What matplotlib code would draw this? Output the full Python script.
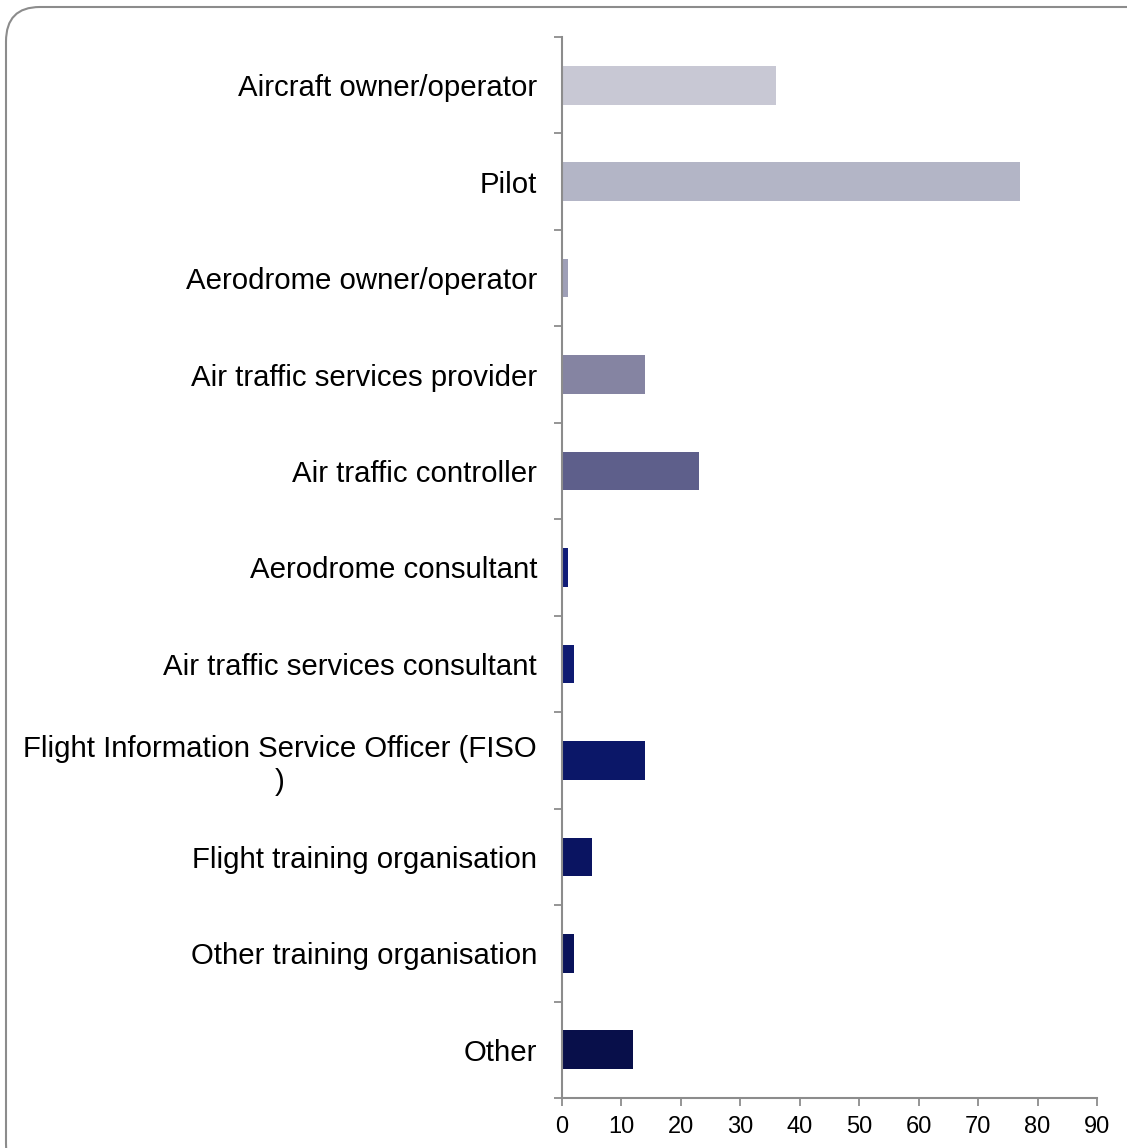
import numpy as np
import matplotlib
matplotlib.use("Agg")
import matplotlib.pyplot as plt
from matplotlib.patches import FancyBboxPatch

plt.rcParams['font.family'] = ['Liberation Sans', 'DejaVu Sans']

categories = [
    "Aircraft owner/operator",
    "Pilot",
    "Aerodrome owner/operator",
    "Air traffic services provider",
    "Air traffic controller",
    "Aerodrome consultant",
    "Air traffic services consultant",
    "Flight Information Service Officer (FISO\n)",
    "Flight training organisation",
    "Other training organisation",
    "Other",
]
values = [36, 77, 1, 14, 23, 1, 2, 14, 5, 2, 12]
colors = ["#C8C8D4", "#B3B5C6", "#9E9FB7", "#8584A2", "#5E5F8B",
          "#101C78", "#0E1A72", "#0B1768", "#0A1461", "#09125A", "#080F4A"]
xticks = [0, 10, 20, 30, 40, 50, 60, 70, 80, 90]

W, H = 1127, 1148
fig = plt.figure(figsize=(W / 100, H / 100), dpi=100)

# rounded outer frame (runs off the right and bottom edges)
frame = FancyBboxPatch((6 / W, -30 / H), (W + 40) / W, (H + 30 - 7) / H,
                       boxstyle="round,pad=0,rounding_size=0.03",
                       transform=fig.transFigure, facecolor="none",
                       edgecolor="#8C8C8C", linewidth=1.5, zorder=-1)
fig.patches.append(frame)

ax = fig.add_axes([562 / W, 1 - 1098 / H, (1097 - 562) / W, (1098 - 37) / H])
ax.patch.set_alpha(0)

y = np.arange(len(categories))
ax.barh(y, values, height=0.4, color=colors, zorder=2)

ax.set_ylim(len(categories) - 0.5, -0.5)
ax.set_xlim(0, 90)

ax.set_yticks(y)
ax.set_yticklabels(categories, fontsize=21.2)
for lbl in ax.get_yticklabels():
    lbl.set_multialignment("center")
ax.set_yticks(np.arange(len(categories) + 1) - 0.5, minor=True)
ax.tick_params(axis="y", which="major", length=0, pad=18)
ax.tick_params(axis="y", which="minor", length=6, width=1.3, color="#8C8C8C")

ax.set_xticks(xticks)
ax.set_xticklabels([str(v) for v in xticks], fontsize=17)
ax.tick_params(axis="x", length=6, width=1.3, color="#8C8C8C", pad=7)

for side in ["top", "right"]:
    ax.spines[side].set_visible(False)
for side in ["left", "bottom"]:
    ax.spines[side].set_color("#8C8C8C")
    ax.spines[side].set_linewidth(1.5)

fig.savefig("out.png", dpi=100)
